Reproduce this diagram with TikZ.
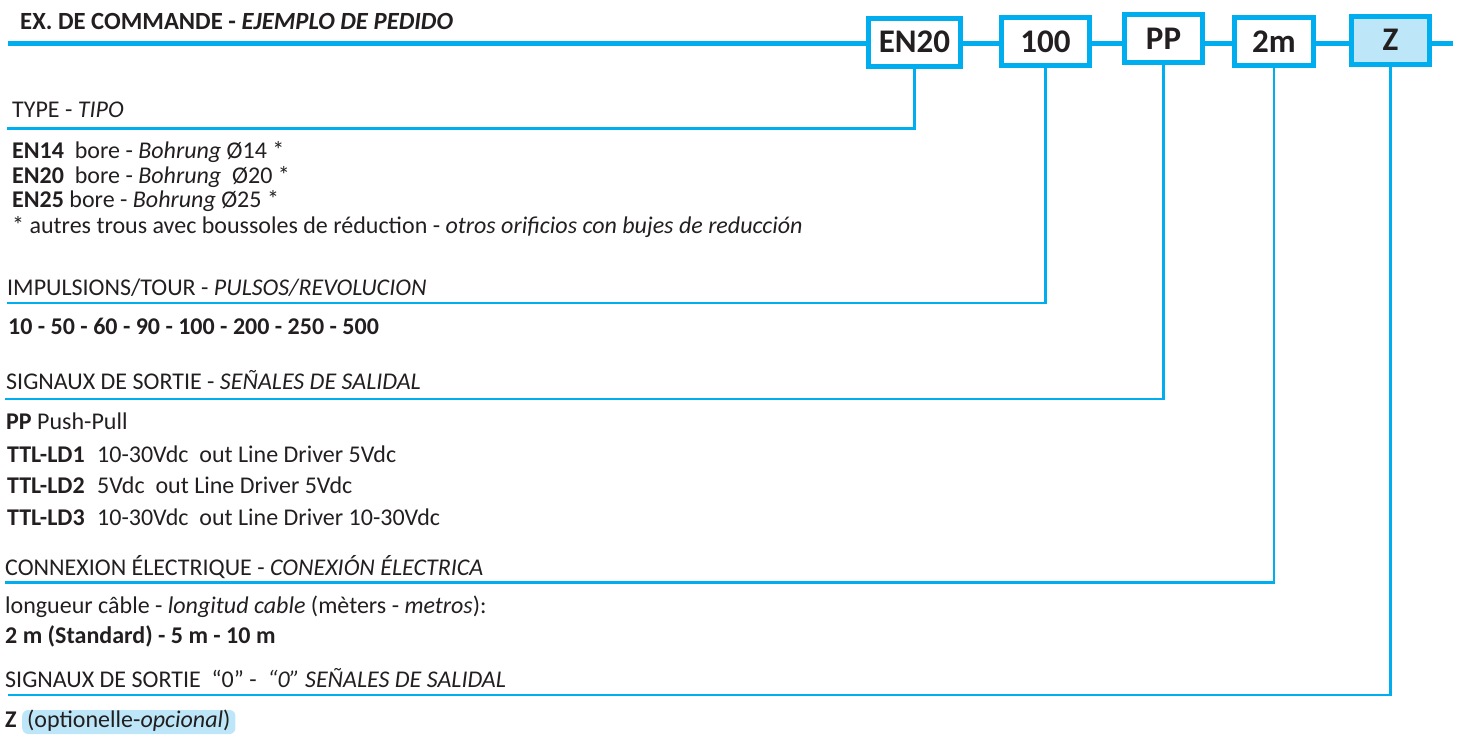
\documentclass[tikz,border=0pt]{standalone}
\usepackage{fontspec}
\setmainfont{Carlito}
\usetikzlibrary{positioning}
\definecolor{cblue}{RGB}{0,174,239}
\definecolor{zfill}{RGB}{189,230,248}
\definecolor{ink}{RGB}{35,31,32}
\tikzset{
  mainline/.style={cblue, line width=5pt},
  codebox/.style={draw=cblue, line width=5pt, fill=white, minimum height=48pt, inner sep=0pt,
    font=\fontsize{33}{38}\selectfont\bfseries, text=ink},
  conn/.style={cblue, line width=2.5pt},
  txt/.style={anchor=base west, inner sep=0pt, text=ink, font=\fontsize{24}{28}\selectfont},
  headtxt/.style={anchor=base west, inner sep=0pt, text=ink, font=\fontsize{24.7}{29}\selectfont\bfseries},
  pill/.style={anchor=base west, fill=zfill, rounded corners=6pt, text=ink,
    font=\fontsize{24}{28}\selectfont, inner xsep=5pt, inner ysep=1pt, text height=16pt, text depth=6pt},
}
\begin{document}
\begin{tikzpicture}[x=1pt,y=-1pt]
\useasboundingbox (0,0) rectangle (1463,734);
% main line
\coordinate (mlL) at (8,43);
\coordinate (mlR) at (1453,43);
\draw[mainline] (mlL) -- (mlR);
% code boxes
\node[codebox, minimum width=92pt] (bEN) at (914.5,42) {EN20};
\node[codebox, minimum width=88pt] (bNum) at (1045.5,41.5) {100};
\node[codebox, minimum width=78pt] (bPP) at (1163.5,38.5) {PP};
\node[codebox, minimum width=79pt] (bLen) at (1274,41.5) {2m};
\node[codebox, minimum width=78pt, fill=zfill] (bZ) at (1390.5,40) {Z};
% header
\node[headtxt] (head) at (20,29) {EX. DE COMMANDE - \textit{EJEMPLO DE PEDIDO}};
% connector end points
\coordinate (eType) at (7,128.5);
\coordinate (eImp) at (7,303);
\coordinate (eSig) at (5,399);
\coordinate (eCon) at (5,582.5);
\coordinate (eZero) at (8,695);
\draw[conn] (bEN.south) |- (eType);
\draw[conn] (bNum.south) |- (eImp);
\draw[conn] (bPP.south) |- (eSig);
\draw[conn] (bLen.south) |- (eCon);
\draw[conn] (bZ.south) |- (eZero);
% texts
\node[txt] (tType) at (12,117) {TYPE - \textit{TIPO}};
\node[txt] (tEN14) at (12,158) {\textbf{EN14}\ \ bore - \textit{Bohrung} Ø14 *};
\node[txt] (tEN20) at (12,183) {\textbf{EN20}\ \ bore - \textit{Bohrung}\ \ Ø20 *};
\node[txt] (tEN25) at (12,207) {\textbf{EN25} bore - \textit{Bohrung} Ø25 *};
\node[txt] (tStar) at (12,233) {* autres trous avec boussoles de réduction - \textit{otros orificios con bujes de reducción}};
\node[txt] (tImp) at (7,295) {IMPULSIONS/TOUR - \textit{PULSOS/REVOLUCION}};
\node[txt] (tNums) at (8,334) {\textbf{10 - 50 - 60 - 90 - 100 - 200 - 250 - 500}};
\node[txt] (tSig) at (6,389) {SIGNAUX DE SORTIE - \textit{SEÑALES DE SALIDAL}};
\node[txt] (tPP) at (6,429) {\textbf{PP} Push-Pull};
\node[txt] (tT1) at (7,462) {\makebox[90pt][l]{\textbf{TTL-LD1}}10-30Vdc\ \ out Line Driver 5Vdc};
\node[txt] (tT2) at (7,493) {\makebox[90pt][l]{\textbf{TTL-LD2}}5Vdc\ \ out Line Driver 5Vdc};
\node[txt] (tT3) at (7,525) {\makebox[90pt][l]{\textbf{TTL-LD3}}10-30Vdc\ \ out Line Driver 10-30Vdc};
\node[txt] (tCon) at (5,575) {CONNEXION ÉLECTRIQUE - \textit{CONEXIÓN ÉLECTRICA}};
\node[txt] (tLong) at (5,613) {longueur câble - \textit{longitud cable} (mèters - \textit{metros}):};
\node[txt] (tTwo) at (5,643) {\textbf{2 m (Standard) - 5 m - 10 m}};
\node[txt] (tZero) at (5,687) {SIGNAUX DE SORTIE\ \ “0” -\ \ \textit{“0” SEÑALES DE SALIDAL}};
\node[txt] (tZ) at (5,727) {\textbf{Z}};
\node[pill] (pill) at (22,727) {(optionelle-\textit{opcional})};
\end{tikzpicture}
\end{document}
